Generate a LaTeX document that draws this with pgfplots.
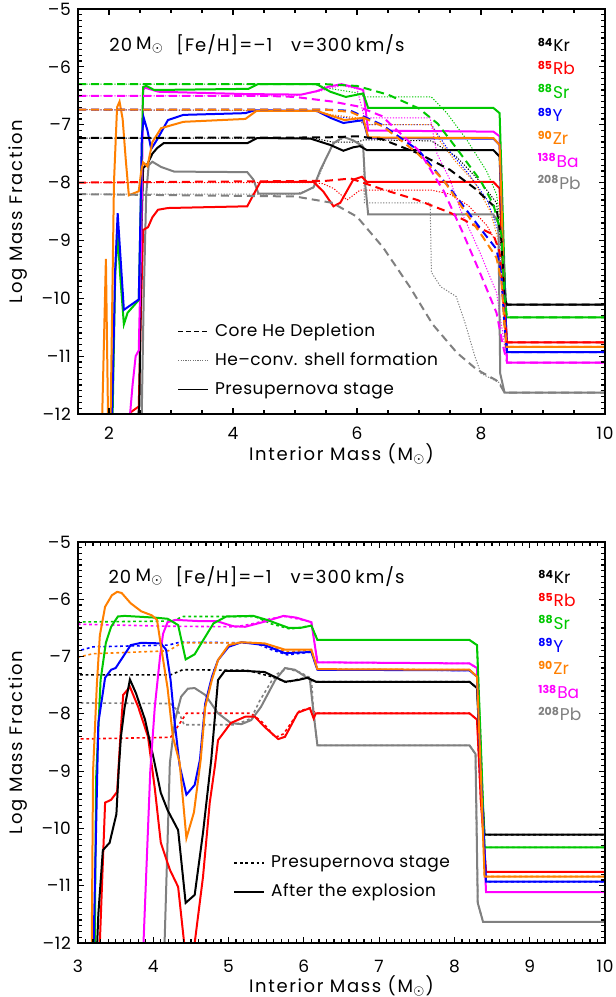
\documentclass[border=0pt]{standalone}
\usepackage{pgfplots}
\pgfplotsset{compat=1.18}
\usepackage{pgfplotstable}
\usepackage{fontspec}
\setmainfont{Poppins}

\definecolor{cKr}{RGB}{0,0,0}
\definecolor{cRb}{RGB}{255,0,0}
\definecolor{cSr}{RGB}{0,200,0}
\definecolor{cY}{RGB}{0,0,255}
\definecolor{cZr}{RGB}{255,127,0}
\definecolor{cBa}{RGB}{255,0,255}
\definecolor{cPb}{RGB}{128,128,128}

\newcommand{\iso}[2]{\textsuperscript{\fontsize{5.5}{6}\selectfont\bfseries #1}#2}
\newcommand{\msun}{M$_\odot$}
\newcommand{\lblfont}{\fontsize{9}{11}\selectfont\addfontfeature{LetterSpace=9}}
\newcommand{\tckfont}{\fontsize{8.5}{10}\selectfont\addfontfeature{LetterSpace=5}}
\newcommand{\ttlfont}{\fontsize{9}{11}\selectfont\addfontfeature{LetterSpace=6}}
\tikzset{ttl/.style={anchor=west, inner sep=0pt, font=\ttlfont}}

% presupernova profiles (solid in top panel, dotted in bottom panel)
\pgfplotstableread{
x y
2.42 -12.5
2.49 -11.85
2.52 -9
2.55 -7.75
2.62 -7.68
2.70 -7.5
2.78 -7.4
2.88 -7.32
4.23 -7.32
4.39 -7.23
5.25 -7.24
5.57 -7.35
5.78 -7.45
5.94 -7.39
6.05 -7.37
6.16 -7.44
8.20 -7.44
8.30 -7.55
8.35 -9
8.40 -10.11
10 -10.11
}\preKr
\pgfplotstableread{
x y
2.30 -12.5
2.35 -11.97
2.48 -11.87
2.52 -10
2.55 -8.82
2.63 -8.77
2.70 -8.6
2.79 -8.47
2.95 -8.44
4.23 -8.41
4.44 -7.99
5.30 -7.99
5.46 -8.16
5.62 -8.41
5.73 -8.35
5.94 -7.95
6.08 -7.9
6.16 -7.99
8.20 -7.99
8.30 -8.1
8.35 -9.5
8.42 -10.76
10 -10.76
}\preRb
\pgfplotstableread{
x y
2.05 -12.5
2.10 -9.6
2.14 -8.9
2.18 -9.6
2.24 -10.45
2.30 -10.25
2.48 -10.03
2.52 -8
2.55 -6.35
2.60 -6.33
2.73 -6.4
4.25 -6.38
4.40 -6.3
5.35 -6.3
5.57 -6.43
5.82 -6.52
6.10 -6.46
6.18 -6.71
8.20 -6.71
8.30 -6.8
8.35 -8.5
8.40 -10.33
10 -10.33
}\preSr
\pgfplotstableread{
x y
2.04 -12.5
2.10 -9.5
2.14 -8.53
2.18 -9.2
2.24 -10.2
2.48 -10.02
2.50 -9
2.53 -7.2
2.56 -6.88
2.62 -7.1
2.68 -7.42
2.78 -7.25
2.95 -6.92
3.20 -6.83
4.20 -6.8
4.35 -6.75
5.35 -6.76
5.57 -6.88
5.78 -6.97
6.10 -6.92
6.18 -7.23
8.20 -7.24
8.30 -7.35
8.35 -9
8.42 -10.93
10 -10.93
}\preY
\pgfplotstableread{
x y
1.88 -12.5
1.95 -9.32
1.99 -12.5
2.02 -12.5
2.08 -8
2.13 -6.7
2.17 -6.6
2.22 -6.9
2.27 -7.6
2.32 -8.22
2.48 -8.15
2.52 -7.8
2.55 -7.65
2.62 -7.72
2.70 -7.3
2.84 -7.06
3.20 -6.95
4.20 -6.9
4.38 -6.76
5.35 -6.76
5.60 -6.85
5.80 -6.92
6.10 -6.88
6.18 -7.22
8.20 -7.23
8.30 -7.35
8.35 -9
8.40 -10.84
10 -10.84
}\preZr
\pgfplotstableread{
x y
2.30 -12.5
2.38 -11.5
2.43 -11
2.48 -10.9
2.52 -9
2.55 -6.4
2.58 -6.36
2.80 -6.43
4.20 -6.47
5.10 -6.48
5.35 -6.42
5.55 -6.34
5.75 -6.3
5.95 -6.35
6.10 -6.4
6.18 -7.1
8.20 -7.12
8.30 -7.2
8.35 -9
8.42 -11.11
10 -11.11
}\preBa
\pgfplotstableread{
x y
2.52 -12.5
2.56 -10
2.60 -8.2
2.64 -7.7
2.70 -7.64
2.84 -7.73
3.05 -7.81
4.23 -7.82
4.33 -7.95
4.41 -8.19
5.09 -8.19
5.30 -8.08
5.41 -7.78
5.62 -7.32
5.78 -7.21
5.94 -7.27
6.10 -7.38
6.13 -8.0
6.18 -8.55
8.20 -8.55
8.28 -8.7
8.31 -11.3
8.38 -11.63
10 -11.63
}\prePb

\pgfplotsset{
  panel/.style={
    scale only axis, width=263.5pt, xmax=10, ymin=-12, ymax=-5,
    axis on top,
    /pgf/number format/assume math mode=true,
    ytick={-12,-11,...,-5},
    yticklabels={–12,–11,–10,–9,–8,–7,–6,–5},
    minor y tick num=9,
    tick align=inside,
    major tick length=3pt, minor tick length=1.8pt,
    tick style={draw=black, line width=0.6pt},
    axis line style={line width=1.1pt},
    tick label style={font=\tckfont},
    label style={font=\lblfont},
    ylabel={Log Mass Fraction},
    xlabel={Interior Mass (\msun)},
    ylabel style={at={(axis description cs:-0.114,0.5)}, anchor=center},
    legend style={draw=none, fill=none, font=\fontsize{8.5}{10}\selectfont\addfontfeature{LetterSpace=3},
      nodes={inner sep=0pt, text height=6pt, text depth=1.5pt}, row sep=7pt, column sep=3pt},
    legend cell align=left,
  },
  legend image code/.code={\draw[#1] (0pt,0pt) -- (15pt,0pt);},
  sol/.style={line width=1pt, no markers},
  dsh/.style={line width=1pt, no markers, dash pattern=on 4pt off 2.5pt},
  dfine/.style={line width=0.5pt, no markers, dash pattern=on 0.6pt off 0.8pt},
  dpre/.style={line width=0.8pt, no markers, dash pattern=on 1.4pt off 1.4pt},
}

\begin{document}
\begin{tikzpicture}
% ---------------- top panel ----------------
\begin{axis}[panel, at={(39pt,291.5pt)}, anchor=south west, height=202.5pt,
  xmin=1.5, xtick={2,4,...,10}, minor x tick num=3,
  xticklabel style={anchor=center, yshift=-9.5pt},
  xlabel style={at={(axis description cs:0.5,-0.099)}, anchor=center},
  legend style={at={(axis cs:3.0,-10.37)}, anchor=north west}]
\addlegendimage{black, line width=0.8pt, dash pattern=on 2.5pt off 1.5pt}
\addlegendimage{black!55, line width=0.6pt, dash pattern=on 0.6pt off 0.6pt}
\addlegendimage{black, line width=0.8pt}
\legend{Core He Depletion, He–conv. shell formation, Presupernova stage}

% He-convective shell formation (dotted)
\addplot[dfine, cKr] coordinates {(1.5,-7.23)(5.3,-7.23)(5.6,-7.3)(6.0,-7.3)(6.12,-7.26)(7.2,-7.28)(7.6,-7.55)(8.0,-8.0)(8.25,-8.35)(8.33,-9.2)(8.4,-10.11)(10,-10.11)};
\addplot[dfine, cRb] coordinates {(1.5,-8.0)(5.3,-8.0)(5.45,-8.02)(5.62,-8.1)(5.84,-8.3)(6.05,-8.13)(7.2,-8.13)(7.5,-8.2)(7.8,-8.4)(8.1,-8.75)(8.28,-9.1)(8.35,-10)(8.42,-10.76)(10,-10.76)};
\addplot[dfine, cSr] coordinates {(1.5,-6.3)(5.3,-6.3)(5.6,-6.38)(6.0,-6.45)(6.12,-6.52)(7.2,-6.52)(7.45,-6.8)(7.77,-7.26)(8.09,-7.8)(8.25,-8.2)(8.35,-9)(8.42,-10.33)(10,-10.33)};
\addplot[dfine, cY] coordinates {(1.5,-6.74)(5.3,-6.76)(5.6,-6.85)(6.0,-6.9)(6.12,-7.0)(7.2,-7.0)(7.45,-7.4)(7.8,-7.85)(8.1,-8.3)(8.28,-8.85)(8.35,-10)(8.42,-10.93)(10,-10.93)};
\addplot[dfine, cZr] coordinates {(1.5,-6.74)(5.3,-6.76)(5.6,-6.83)(6.0,-6.88)(6.12,-7.0)(7.2,-7.0)(7.35,-7.3)(7.6,-7.65)(7.9,-8.0)(8.15,-8.5)(8.28,-9.0)(8.35,-10)(8.42,-10.84)(10,-10.84)};
\addplot[dfine, cBa] coordinates {(1.5,-6.5)(5.0,-6.5)(5.4,-6.42)(5.75,-6.32)(6.0,-6.38)(6.12,-6.88)(7.18,-6.88)(7.29,-7.5)(7.5,-7.95)(7.66,-8.45)(7.98,-9.2)(8.25,-9.9)(8.35,-10.6)(8.42,-11.11)(10,-11.11)};
\addplot[dfine, cPb] coordinates {(1.5,-8.2)(5.0,-8.2)(5.3,-8.1)(5.6,-7.35)(5.8,-7.22)(6.0,-7.3)(6.1,-7.35)(6.12,-8.35)(7.18,-8.35)(7.2,-9.55)(7.35,-9.8)(7.6,-9.97)(7.75,-10.45)(7.9,-11.0)(8.0,-11.3)(8.3,-11.46)(8.38,-11.63)(10,-11.63)};

% Presupernova stage (solid)
\addplot[sol, cPb] table {\prePb};
\addplot[sol, cRb] table {\preRb};
\addplot[sol, cKr] table {\preKr};
\addplot[sol, cBa] table {\preBa};
\addplot[sol, cSr] table {\preSr};
\addplot[sol, cY] table {\preY};
\addplot[sol, cZr] table {\preZr};

% Core He depletion (dashed)
\addplot[dsh, cKr] coordinates {(1.5,-7.23)(5.5,-7.22)(6.0,-7.2)(6.4,-7.25)(7.0,-7.5)(7.5,-7.78)(7.9,-8.1)(8.25,-8.45)(8.33,-9.0)(8.38,-10.0)(8.42,-10.11)(10,-10.11)};
\addplot[dsh, cRb] coordinates {(1.5,-8.0)(5.5,-7.97)(5.9,-7.93)(6.42,-8.12)(6.97,-8.3)(7.5,-8.52)(7.93,-8.76)(8.2,-8.9)(8.3,-9.2)(8.38,-10.3)(8.42,-10.76)(10,-10.76)};
\addplot[dsh, cSr] coordinates {(1.5,-6.3)(5.5,-6.3)(6.0,-6.33)(6.5,-6.48)(7.0,-6.72)(7.3,-6.98)(7.6,-7.4)(8.0,-7.98)(8.2,-8.38)(8.33,-8.9)(8.38,-10.0)(8.42,-10.33)(10,-10.33)};
\addplot[dsh, cY] coordinates {(1.5,-6.74)(5.5,-6.74)(5.9,-6.76)(6.4,-7.0)(7.0,-7.45)(7.5,-8.1)(8.03,-8.85)(8.25,-9.15)(8.33,-9.6)(8.38,-10.5)(8.42,-10.93)(10,-10.93)};
\addplot[dsh, cZr] coordinates {(1.5,-6.74)(5.5,-6.74)(5.9,-6.78)(6.42,-7.03)(6.97,-7.49)(7.39,-7.95)(7.71,-8.45)(8.03,-8.94)(8.25,-9.3)(8.33,-9.7)(8.38,-10.5)(8.42,-10.84)(10,-10.84)};
\addplot[dsh, cBa] coordinates {(1.5,-6.5)(4.5,-6.5)(5.0,-6.52)(5.6,-6.6)(6.0,-6.68)(6.4,-6.85)(7.0,-7.45)(7.4,-8.15)(7.7,-8.85)(8.0,-9.6)(8.25,-10.25)(8.35,-10.8)(8.42,-11.11)(10,-11.11)};
\addplot[dsh, cPb] coordinates {(1.5,-8.2)(5.0,-8.24)(5.6,-8.35)(6.0,-8.59)(6.42,-9.12)(6.85,-9.8)(7.22,-10.45)(7.61,-10.94)(7.93,-11.23)(8.25,-11.42)(8.31,-11.5)(8.38,-11.63)(10,-11.63)};

\node[ttl] at (axis cs:2.0,-5.62) {20};
\node[ttl] at (axis cs:2.43,-5.62) {\msun};
\node[ttl] at (axis cs:3.08,-5.62) {[Fe/H]=–1};
\node[ttl] at (axis cs:4.93,-5.62) {v=300};
\node[ttl] at (axis cs:5.97,-5.62) {km/s};
\begin{scope}[every node/.style={anchor=west, inner sep=0pt, font=\fontsize{8.5}{10}\selectfont}]
\node[text=cKr] at (axis cs:8.91,-5.62) {\iso{84}{Kr}};
\node[text=cRb] at (axis cs:8.91,-6.02) {\iso{85}{Rb}};
\node[text=cSr] at (axis cs:8.91,-6.43) {\iso{88}{Sr}};
\node[text=cY]  at (axis cs:8.91,-6.83) {\iso{89}{Y}};
\node[text=cZr] at (axis cs:8.91,-7.23) {\iso{90}{Zr}};
\node[text=cBa] at (axis cs:8.91,-7.62) {\iso{138}{Ba}};
\node[text=cPb] at (axis cs:8.91,-8.00) {\iso{208}{Pb}};
\end{scope}
\end{axis}

% ---------------- bottom panel ----------------
\begin{axis}[panel, at={(39pt,27pt)}, anchor=south west, height=200.5pt,
  xmin=3, xtick={3,...,10}, minor x tick num=9,
  xticklabel style={anchor=center, yshift=-11.5pt},
  xlabel style={at={(axis description cs:0.5,-0.107)}, anchor=center},
  legend style={at={(axis cs:4.98,-10.4)}, anchor=north west}]
\addlegendimage{black, line width=0.8pt, dash pattern=on 1.4pt off 1.4pt}
\addlegendimage{black, line width=0.8pt}
\legend{Presupernova stage, After the explosion}

% Presupernova stage (dotted)
\addplot[dpre, cPb] table {\prePb};
\addplot[dpre, cRb] table {\preRb};
\addplot[dpre, cKr] table {\preKr};
\addplot[dpre, cBa] table {\preBa};
\addplot[dpre, cSr] table {\preSr};
\addplot[dpre, cY] table {\preY};
\addplot[dpre, cZr] table {\preZr};

% After the explosion (solid)
\addplot[sol, cPb] coordinates {(4.13,-12.5)(4.15,-12)(4.22,-8.86)(4.29,-8.1)(4.37,-7.7)(4.46,-7.56)(4.55,-7.55)(4.69,-7.67)(4.86,-7.99)(5.03,-8.16)(5.17,-8.18)(5.3,-8.11)(5.43,-7.88)(5.62,-7.41)(5.75,-7.2)(5.88,-7.23)(6.08,-7.4)(6.13,-8.0)(6.18,-8.55)(8.2,-8.55)(8.28,-8.7)(8.31,-11.3)(8.38,-11.63)(10,-11.63)};
\addplot[sol, cRb] coordinates {(3.27,-12.5)(3.29,-12)(3.36,-9.55)(3.44,-9.5)(3.52,-9.36)(3.56,-8.46)(3.6,-7.67)(3.69,-7.53)(3.8,-7.88)(3.93,-8.4)(4.02,-9.3)(4.1,-10.25)(4.22,-10.72)(4.33,-11.02)(4.41,-12)(4.43,-12.5)(4.53,-12.5)(4.55,-12)(4.66,-10.85)(4.75,-9.55)(4.82,-8.9)(4.86,-8.46)(5.03,-8.16)(5.22,-8.05)(5.35,-8.05)(5.48,-8.23)(5.66,-8.44)(5.75,-8.4)(5.92,-7.98)(6.08,-7.9)(6.13,-8.08)(6.16,-7.99)(8.2,-7.99)(8.3,-8.1)(8.35,-9.5)(8.42,-10.76)(10,-10.76)};
\addplot[sol, cKr] coordinates {(3.24,-12.5)(3.27,-11.5)(3.33,-10.38)(3.42,-10.25)(3.51,-9.75)(3.54,-9)(3.57,-8.4)(3.62,-7.88)(3.69,-7.4)(3.77,-7.64)(3.89,-8.1)(4.0,-8.75)(4.1,-9.38)(4.19,-9.68)(4.33,-10.03)(4.43,-11.3)(4.55,-11.16)(4.66,-10.08)(4.77,-8.8)(4.86,-7.41)(4.95,-7.25)(5.22,-7.25)(5.48,-7.27)(5.75,-7.44)(5.92,-7.41)(6.05,-7.37)(6.16,-7.44)(8.2,-7.44)(8.3,-7.55)(8.35,-9)(8.4,-10.11)(10,-10.11)};
\addplot[sol, cBa] coordinates {(3.85,-12.5)(3.87,-12)(3.96,-9)(4.02,-7.88)(4.09,-7.0)(4.13,-6.6)(4.19,-6.4)(4.3,-6.36)(4.6,-6.38)(4.84,-6.38)(5.06,-6.47)(5.22,-6.48)(5.48,-6.39)(5.73,-6.29)(5.9,-6.32)(6.1,-6.4)(6.18,-7.1)(8.2,-7.12)(8.3,-7.2)(8.35,-9)(8.42,-11.11)(10,-11.11)};
\addplot[sol, cSr] coordinates {(3.22,-12.5)(3.24,-9.15)(3.3,-7.41)(3.37,-6.76)(3.44,-6.48)(3.53,-6.3)(3.62,-6.29)(4.02,-6.32)(4.19,-6.34)(4.33,-6.45)(4.43,-7.05)(4.55,-6.96)(4.66,-6.72)(4.8,-6.42)(4.97,-6.3)(5.33,-6.29)(5.51,-6.36)(5.8,-6.5)(5.95,-6.5)(6.1,-6.46)(6.18,-6.71)(8.2,-6.71)(8.3,-6.8)(8.35,-8.5)(8.4,-10.33)(10,-10.33)};
\addplot[sol, cY] coordinates {(3.2,-12.5)(3.27,-8.16)(3.36,-7.37)(3.44,-7.23)(3.5,-7.2)(3.6,-7.0)(3.7,-6.8)(3.84,-6.76)(4.1,-6.77)(4.17,-6.88)(4.23,-7.41)(4.28,-8.1)(4.35,-8.9)(4.44,-9.41)(4.55,-9.24)(4.62,-8.8)(4.69,-7.82)(4.78,-7.35)(4.86,-7.06)(5.0,-6.83)(5.17,-6.75)(5.48,-6.8)(5.75,-6.94)(6.1,-6.92)(6.18,-7.23)(8.2,-7.24)(8.3,-7.35)(8.35,-9)(8.42,-10.93)(10,-10.93)};
\addplot[sol, cZr] coordinates {(3.18,-12.5)(3.2,-9)(3.25,-7.5)(3.29,-6.63)(3.36,-6.13)(3.45,-5.93)(3.52,-5.87)(3.58,-5.89)(3.7,-6.07)(3.84,-6.21)(3.98,-6.28)(4.05,-6.36)(4.1,-6.8)(4.19,-7.55)(4.26,-8.4)(4.35,-8.85)(4.44,-10.17)(4.54,-9.72)(4.63,-8.8)(4.69,-7.88)(4.78,-7.4)(4.86,-7.06)(5.0,-6.8)(5.17,-6.75)(5.48,-6.77)(5.75,-6.88)(6.1,-6.88)(6.18,-7.22)(8.2,-7.23)(8.3,-7.35)(8.35,-9)(8.4,-10.84)(10,-10.84)};

\node[ttl] at (axis cs:3.40,-5.61) {20};
\node[ttl] at (axis cs:3.76,-5.61) {\msun};
\node[ttl] at (axis cs:4.29,-5.61) {[Fe/H]=–1};
\node[ttl] at (axis cs:5.82,-5.61) {v=300};
\node[ttl] at (axis cs:6.68,-5.61) {km/s};
\begin{scope}[every node/.style={anchor=west, inner sep=0pt, font=\fontsize{8.5}{10}\selectfont}]
\node[text=cKr] at (axis cs:9.11,-5.61) {\iso{84}{Kr}};
\node[text=cRb] at (axis cs:9.11,-6.01) {\iso{85}{Rb}};
\node[text=cSr] at (axis cs:9.11,-6.41) {\iso{88}{Sr}};
\node[text=cY]  at (axis cs:9.11,-6.80) {\iso{89}{Y}};
\node[text=cZr] at (axis cs:9.11,-7.20) {\iso{90}{Zr}};
\node[text=cBa] at (axis cs:9.11,-7.62) {\iso{138}{Ba}};
\node[text=cPb] at (axis cs:9.11,-8.00) {\iso{208}{Pb}};
\end{scope}
\end{axis}
\pgfresetboundingbox
\useasboundingbox (0pt,0pt) rectangle (308pt,498.5pt);
\end{tikzpicture}
\end{document}
